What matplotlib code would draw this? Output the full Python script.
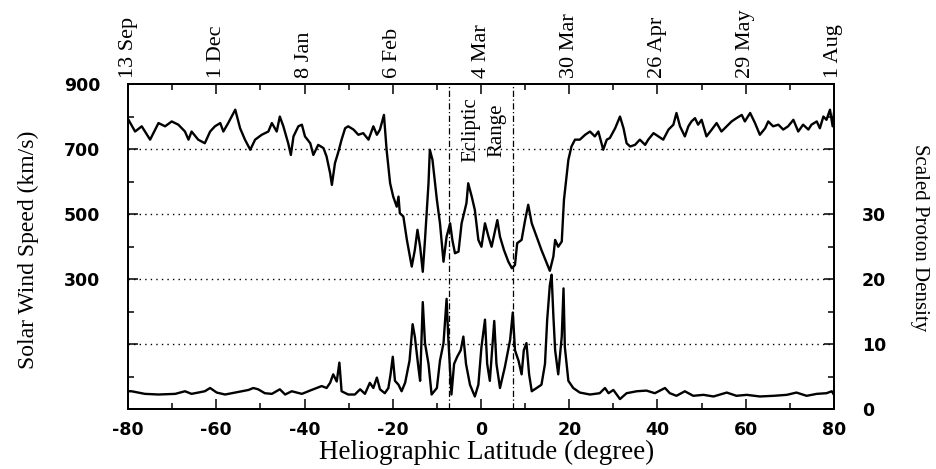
import matplotlib
matplotlib.use('Agg')
import matplotlib.pyplot as plt
from matplotlib.ticker import MultipleLocator

plt.rcParams['axes.unicode_minus'] = False

# Velocidad del viento solar (km/s) frente a la latitud heliografica
lat_speed = [-79.9, -78.4, -76.9, -75.0, -73.1, -71.6, -70.1, -68.6, -67.1, -66.3,
             -65.6, -64.1, -62.6, -61.4, -60.3, -59.1, -58.4, -57.3, -55.7, -54.6,
             -53.5, -52.3, -51.2, -49.7, -48.2, -47.4, -46.3, -45.6, -44.8, -43.7,
             -43.1, -42.5, -41.4, -40.6, -39.9, -38.7, -38.0, -36.9, -35.7, -35.0,
             -34.2, -33.8, -33.1, -32.3, -31.6, -30.8, -30.1, -28.9, -27.8, -26.7,
             -25.5, -24.4, -23.6, -22.9, -22.0, -21.4, -20.6, -19.9, -19.1, -18.7,
             -18.4, -17.6, -16.8, -15.7, -15.0, -14.4, -13.8, -13.2, -12.7, -11.9,
             -11.6, -11.0, -10.0, -9.3, -8.5, -7.8, -7.0, -6.5, -5.9, -5.1,
             -4.4, -3.3, -2.9, -2.1, -1.4, -0.6, 0.1, 0.9, 1.7, 2.4,
             3.7, 4.3, 5.2, 6.2, 7.0, 7.7, 8.2, 9.2, 10.0, 10.7,
             11.5, 12.6, 13.7, 14.9, 15.6, 16.4, 16.8, 17.5, 18.3, 18.8,
             19.3, 19.8, 20.5, 21.3, 22.4, 23.6, 24.7, 25.8, 26.6, 27.7,
             28.5, 29.2, 30.4, 31.5, 32.3, 33.0, 33.8, 34.9, 36.0, 37.2,
             37.9, 39.1, 40.2, 41.3, 42.5, 43.6, 44.3, 45.1, 46.2, 47.0,
             47.7, 48.5, 49.2, 50.0, 51.1, 52.3, 53.4, 54.5, 55.7, 56.8,
             57.9, 59.1, 59.8, 61.0, 62.1, 63.2, 64.4, 65.1, 66.2, 67.4,
             68.5, 69.6, 70.8, 71.9, 73.0, 74.2, 74.9, 76.1, 76.8, 77.6,
             78.3, 79.1, 79.7, 80.0]
speed = [790, 754, 770, 729, 780, 770, 785, 775, 754, 729,
         754, 729, 718, 754, 770, 780, 754, 780, 821, 764,
         729, 698, 729, 744, 754, 780, 754, 800, 770, 718,
         682, 739, 770, 775, 739, 718, 682, 713, 703, 677,
         626, 590, 657, 693, 729, 764, 770, 760, 744, 749,
         729, 770, 744, 760, 805, 698, 595, 554, 523, 554,
         503, 493, 421, 339, 390, 452, 400, 323, 421, 595,
         698, 667, 544, 472, 354, 431, 472, 421, 380, 385,
         472, 534, 595, 554, 513, 421, 400, 472, 431, 400,
         482, 431, 390, 354, 334, 344, 411, 421, 482, 529,
         472, 431, 390, 349, 326, 370, 421, 400, 416, 544,
         605, 667, 708, 729, 729, 744, 754, 739, 754, 698,
         729, 734, 764, 800, 764, 718, 708, 713, 729, 713,
         729, 749, 739, 729, 760, 775, 811, 770, 739, 770,
         785, 795, 775, 790, 739, 760, 780, 754, 770, 785,
         795, 805, 785, 811, 780, 744, 764, 785, 770, 775,
         760, 770, 790, 754, 775, 760, 775, 785, 764, 800,
         790, 821, 770, 811]

# Densidad de protones escalada
lat_dens = [-79.9, -79.2, -76.2, -73.1, -69.3, -67.1, -65.6, -62.6, -61.4, -59.9,
            -58.0, -55.7, -54.2, -52.7, -51.6, -50.5, -49.0, -47.4, -45.6, -44.4,
            -42.9, -40.6, -38.4, -36.1, -35.0, -34.2, -33.5, -32.7, -32.1, -31.6,
            -30.1, -28.6, -27.4, -26.3, -25.2, -24.4, -23.6, -22.9, -21.8, -21.0,
            -20.5, -20.0, -19.5, -18.7, -18.0, -17.2, -16.2, -15.5, -15.0, -14.2,
            -13.8, -13.2, -12.7, -11.9, -11.2, -10.0, -9.3, -8.5, -7.8, -7.4,
            -6.7, -6.1, -5.4, -4.6, -4.0, -3.4, -2.5, -1.4, -0.6, 0.1,
            0.9, 1.4, 2.0, 3.0, 3.5, 4.3, 5.4, 6.6, 7.2, 7.7,
            8.5, 9.2, 9.7, 10.3, 10.9, 11.5, 12.6, 13.7, 14.5, 15.0,
            15.6, 16.0, 16.4, 16.8, 17.5, 18.3, 18.7, 19.0, 19.8, 20.9,
            22.4, 24.7, 26.9, 28.1, 28.9, 30.0, 31.5, 33.0, 35.3, 37.5,
            39.4, 41.7, 42.8, 44.3, 46.2, 48.1, 50.4, 52.7, 55.7, 57.9,
            60.2, 63.2, 66.3, 69.3, 71.5, 73.8, 76.1, 78.3, 79.5, 80.0]
density = [2.8, 2.8, 2.4, 2.3, 2.4, 2.8, 2.4, 2.8, 3.3, 2.6,
           2.3, 2.6, 2.8, 3.0, 3.3, 3.1, 2.5, 2.4, 3.1, 2.3,
           2.8, 2.4, 3.0, 3.6, 3.3, 4.1, 5.4, 4.3, 7.2, 2.8,
           2.3, 2.3, 3.1, 2.4, 4.1, 3.3, 4.9, 3.1, 2.5, 3.3,
           5.4, 8.1, 4.4, 3.8, 2.8, 4.1, 7.5, 13.1, 11.2, 6.5,
           4.4, 16.5, 10.2, 7.0, 2.3, 3.3, 7.5, 10.2, 17.0, 10.7,
           2.3, 7.0, 8.1, 9.1, 11.2, 7.0, 3.8, 2.0, 3.8, 9.6,
           13.8, 7.0, 4.4, 13.6, 7.0, 3.3, 6.5, 10.7, 14.9, 9.1,
           7.5, 5.4, 9.1, 10.2, 5.4, 2.8, 3.3, 3.8, 7.0, 13.8,
           19.1, 20.7, 14.4, 9.1, 5.4, 11.2, 18.6, 9.6, 4.4, 3.3,
           2.6, 2.3, 2.5, 3.3, 2.5, 3.0, 1.6, 2.5, 2.8, 2.9,
           2.5, 3.3, 2.5, 2.1, 2.8, 2.1, 2.25, 2.0, 2.6, 2.1,
           2.25, 2.0, 2.1, 2.25, 2.6, 2.1, 2.4, 2.5, 2.8, 2.25]

lat_ticks = [-80, -60, -40, -20, 0, 20, 40, 60, 80]
date_labels = ['13 Sep', '1 Dec', '8 Jan', '6 Feb', '4 Mar', '30 Mar', '26 Apr', '29 May', '1 Aug']
speed_ticks = [100, 300, 500, 700, 900]
speed_labels = ['', '300', '500', '700', '900']
dens_ticks = [0, 10, 20, 30, 40]
dens_labels = ['0', '10', '20', '30', '']
grid_speeds = [100, 300, 500, 700]
ecliptic = [-7.25, 7.25]

serif = 'Liberation Serif'

fig = plt.figure(figsize=(9.36, 4.69), dpi=100)
ax = fig.add_axes([0.1368, 0.1269, 0.7542, 0.694])

ax.plot(lat_speed, speed, color='black', lw=1.7)
ax.set_xlim(-80, 80)
ax.set_ylim(-100, 900)

# lineas punteadas horizontales
for g in grid_speeds:
    ax.axhline(g, color='black', lw=1.0, ls=(0, (1, 3)))

# rango de la ecliptica
for e in ecliptic:
    ax.axvline(e, color='black', lw=0.9, ls=(0, (5, 2, 1, 2)))
ax.text(0.7, 759, 'Ecliptic\nRange', rotation=90, ha='center', va='center',
        fontsize=15, family=serif, linespacing=1.5)

ax.set_xticks(lat_ticks)
ax.xaxis.set_minor_locator(MultipleLocator(10))
ax.set_yticks(speed_ticks, labels=speed_labels)
ax.yaxis.set_minor_locator(MultipleLocator(100))
ax.tick_params(axis='both', which='both', direction='in', width=1.1)
ax.tick_params(axis='both', which='major', length=7, labelsize=12.5)
ax.tick_params(axis='both', which='minor', length=4)
ax.tick_params(axis='y', which='major', pad=20)
ax.tick_params(axis='x', which='major', pad=8)

ax2 = ax.twinx()
ax2.plot(lat_dens, density, color='black', lw=1.7)
ax2.set_ylim(0, 50)
ax2.set_yticks(dens_ticks, labels=dens_labels)
ax2.yaxis.set_minor_locator(MultipleLocator(5))
ax2.tick_params(axis='y', which='both', direction='in', width=1.1)
ax2.tick_params(axis='y', which='major', length=7, labelsize=12.5, pad=20)
ax2.tick_params(axis='y', which='minor', length=4)

for t in ax.get_xticklabels() + ax.get_yticklabels() + ax2.get_yticklabels():
    t.set_fontweight('bold')

top = ax.secondary_xaxis('top')
top.set_xticks(lat_ticks, labels=date_labels)
top.xaxis.set_minor_locator(MultipleLocator(10))
top.tick_params(axis='x', which='both', direction='in', width=1.1)
top.tick_params(axis='x', which='major', length=7, pad=4)
top.tick_params(axis='x', which='minor', length=4)
for t in top.get_xticklabels():
    t.set_rotation(90)
    t.set_fontsize(16)
    t.set_family(serif)

for a in (ax, ax2, top):
    for s in a.spines.values():
        s.set_linewidth(1.4)

fig.text(28 / 936, 1 - 250 / 469, 'Solar Wind Speed (km/s)', rotation=90,
         ha='center', va='center', fontsize=17, family=serif)
fig.text(920 / 936, 1 - 238 / 469, 'Scaled Proton Density', rotation=270,
         ha='center', va='center', fontsize=15, family=serif)
fig.text(487 / 936, 1 - 452 / 469, 'Heliographic Latitude (degree)',
         ha='center', va='center', fontsize=19.5, family=serif)

fig.savefig('out.png', dpi=100)
